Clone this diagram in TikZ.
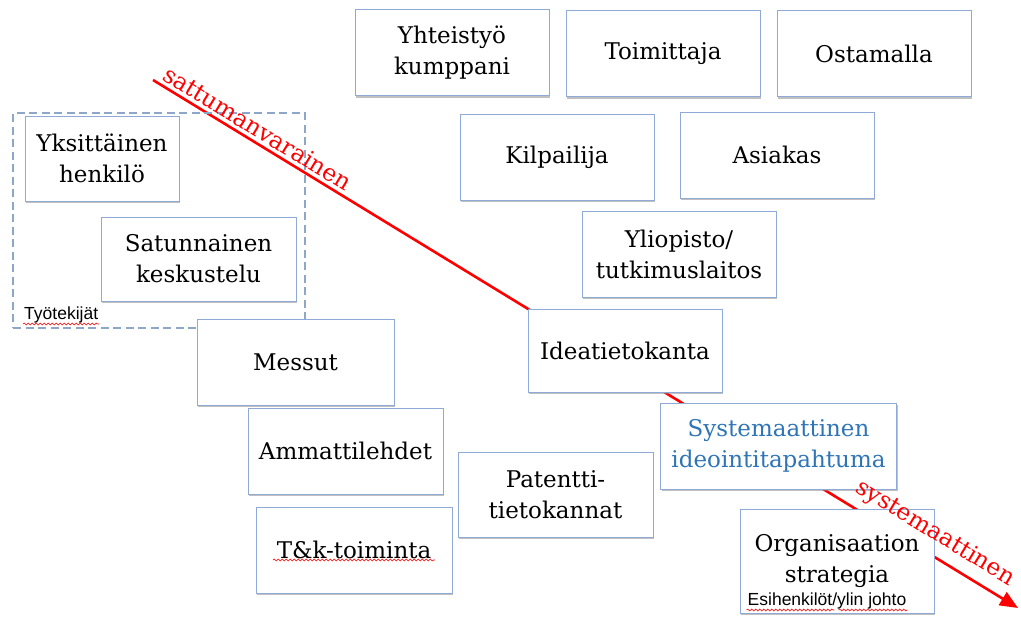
\documentclass[tikz,border=0pt]{standalone}
\usepackage{fontspec}
\setmainfont{DejaVu Serif}
\setsansfont{Liberation Sans}
\usetikzlibrary{arrows.meta,shadows,decorations.pathmorphing}

\definecolor{boxblue}{HTML}{8FAAD6}
\definecolor{textblue}{HTML}{2E75B6}
\definecolor{arrowred}{HTML}{FF0000}
\definecolor{dashblue}{HTML}{8EA6C8}

\tikzset{
  box/.style={draw=boxblue, line width=0.9pt, fill=white, align=center,
    inner sep=0pt, minimum width=194pt, minimum height=86pt,
    font=\fontsize{23}{31}\selectfont,
    drop shadow={shadow xshift=1pt, shadow yshift=-2pt, fill=black!45, opacity=0.55}},
  boxtext/.style={align=center, inner sep=0pt, font=\fontsize{23}{31}\selectfont},
  smalltext/.style={inner sep=1pt, font=\sffamily\fontsize{17.5}{19}\selectfont},
  group/.style={draw=dashblue, line width=1.1pt, dash pattern=on 8pt off 4.5pt},
  trend/.style={draw=arrowred, line width=2.6pt, -{Triangle[length=18pt,width=15pt]}},
  trendlabel/.style={text=arrowred, sloped, inner sep=1pt, font=\fontsize{23.5}{26}\selectfont},
  squiggle/.style={draw=arrowred, line width=0.6pt,
    decorate, decoration={snake, segment length=4pt, amplitude=0.9pt}},
}

\begin{document}
\begin{tikzpicture}[x=1pt, y=-1pt]
\useasboundingbox (0,0) rectangle (1021,619);

% trend arrow from chance-based to systematic sources
\coordinate (start) at (153,80);
\coordinate (end) at (1018,608);
\draw[trend] (start) -- (end);

% employees group
\node[group, minimum width=292pt, minimum height=215pt, inner sep=0pt] (grp) at (159,220.5) {};
\node[smalltext, anchor=south west] (tyo) at (23,324) {Työtekijät};
\draw[squiggle] (tyo.south west) -- (tyo.south east);

% sources of ideas
\node[box] (yht) at (452,52.5) {Yhteistyö\\kumppani};
\node[box] (toim) at (663,53.5) {Toimittaja};
\node[box] (ost) at (874,53.5) {Ostamalla};
\node[box] (kilp) at (557,157) {Kilpailija};
\node[box] (asiak) at (777,155) {Asiakas};
\node[box] (yliop) at (679,254) {Yliopisto/\\tutkimuslaitos};
\node[box, minimum width=154pt, minimum height=85pt] (yks) at (102,158.5) {Yksittäinen\\henkilö};
\node[box, minimum width=195pt, minimum height=84pt] (satun) at (198.5,259) {Satunnainen\\keskustelu};
\node[box, minimum width=197pt] (messut) at (295.5,362) {Messut};
\node[box, minimum height=83pt] (idea) at (625,350.5) {Ideatietokanta};
\node[box, minimum width=195pt] (ammat) at (345.5,451) {Ammattilehdet};
\node[box, minimum width=195pt, minimum height=85pt] (pat) at (555.5,494.5) {Patentti-\\tietokannat};
\node[box, minimum width=236pt, text=textblue] (syst) at (778.5,446) {Systemaattinen\\ideointitapahtuma};
\node[box, minimum width=196pt] (tk) at (354,550) {T\&k-toiminta};
\draw[squiggle] ([xshift=-81pt, yshift=-10pt]tk.center) -- ([xshift=81pt, yshift=-10pt]tk.center);

\node[box, minimum height=104pt] (org) at (837,561) {};
\node[boxtext] (orgt) at (837,561) {Organisaation\\strategia};
\node[smalltext, anchor=south] (orgsub) at (827,610) {Esihenkilöt/ylin johto};
\draw[squiggle] (orgsub.south west) -- ([xshift=-73pt]orgsub.south east);
\draw[squiggle] ([xshift=-69pt]orgsub.south east) -- (orgsub.south east);

% labels along the arrow
\path (start) -- (end) node[trendlabel, pos=0.113, anchor=south, yshift=3.5pt] (lab1) {sattumanvarainen};
\path (start) -- (end) node[trendlabel, pos=0.892, anchor=south, yshift=8pt] (lab2) {systemaattinen};
\end{tikzpicture}
\end{document}
